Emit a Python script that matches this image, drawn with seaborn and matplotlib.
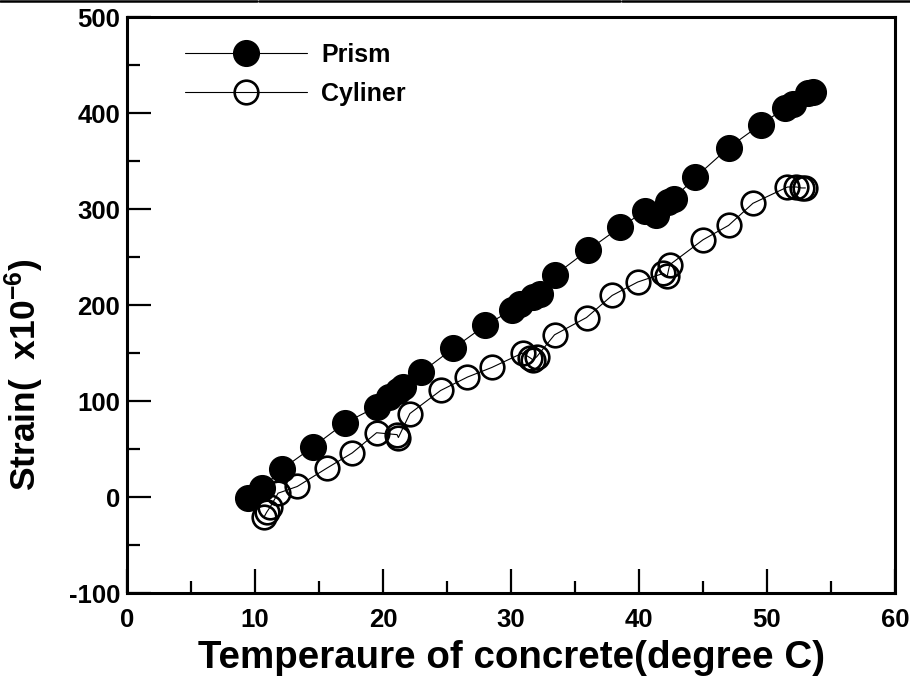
import matplotlib
matplotlib.use("Agg")
import matplotlib.pyplot as plt
import seaborn as sns
import pandas as pd
from matplotlib.ticker import MultipleLocator
from matplotlib.lines import Line2D

# ---- data ----
prism_temp = [9.45, 10.55, 12.1, 14.5, 17.0, 19.5, 20.5, 21.2, 21.6, 23.0, 25.5, 28.0,
              30.1, 30.7, 31.7, 32.3, 33.4, 36.0, 38.5, 40.5, 41.3, 42.3, 42.7, 44.4,
              47.0, 49.5, 51.4, 52.0, 53.2, 53.6]
prism_strain = [-1, 9, 29, 52, 77, 94, 104, 110, 115, 130, 155, 179,
                195, 201, 208, 212, 231, 257, 281, 298, 294, 307, 311, 333,
                364, 388, 405, 409, 421, 422]

cyl_temp = [10.7, 10.9, 11.2, 11.8, 13.3, 15.6, 17.6, 19.5, 21.1, 21.2, 22.1, 24.5,
            26.6, 28.5, 30.9, 31.5, 31.7, 32.0, 33.4, 35.9, 37.9, 39.9, 41.9, 42.2,
            42.4, 45.0, 47.0, 48.9, 51.6, 52.3, 52.7, 53.0]
cyl_strain = [-21, -16, -10, 4, 11, 30, 46, 67, 65, 62, 87, 111,
              125, 135, 150, 145, 143, 146, 169, 187, 210, 224, 233, 230,
              242, 268, 283, 306, 323, 323, 322, 322]

x_ticks = [0, 10, 20, 30, 40, 50, 60]
y_ticks = [-100, 0, 100, 200, 300, 400, 500]
series_names = ["Prism", "Cyliner"]
x_label = "Temperaure of concrete(degree C)"
y_label = r"Strain(  x10$^{\mathregular{-6}}$)"

sns.set_theme(style="white")
plt.rcParams["font.family"] = ["Liberation Sans", "DejaVu Sans"]
plt.rcParams["font.weight"] = "bold"
plt.rcParams["mathtext.default"] = "regular"
plt.rcParams["axes.unicode_minus"] = False
for k in ["text.color", "axes.labelcolor", "xtick.color", "ytick.color", "axes.edgecolor"]:
    plt.rcParams[k] = "black"

df_p = pd.DataFrame({"t": prism_temp, "s": prism_strain})
df_c = pd.DataFrame({"t": cyl_temp, "s": cyl_strain})

fig = plt.figure(figsize=(9.10, 6.84), dpi=100)
ax = fig.add_axes([0.1396, 0.133, 0.8439, 0.842])

sns.lineplot(data=df_p, x="t", y="s", ax=ax, sort=True, estimator=None,
             color="black", lw=0.8, marker="o", markersize=18.5,
             markerfacecolor="black", markeredgecolor="black", markeredgewidth=1.0,
             label=series_names[0])
sns.lineplot(data=df_c, x="t", y="s", ax=ax, sort=True, estimator=None,
             color="black", lw=0.8, marker="o", markersize=17,
             markerfacecolor="none", markeredgecolor="black", markeredgewidth=1.9,
             label=series_names[1])

ax.set_xlim(0, 60)
ax.set_ylim(-100, 500)
ax.set_xticks(x_ticks)
ax.set_yticks(y_ticks)
ax.xaxis.set_minor_locator(MultipleLocator(5))
ax.yaxis.set_minor_locator(MultipleLocator(50))
ax.tick_params(which="major", direction="in", length=17, width=1.6,
               labelsize=18.5, bottom=True, left=True, top=False, right=False,
               colors="black")
ax.tick_params(axis="x", which="major", pad=11)
ax.tick_params(axis="y", which="major", pad=5)
ax.tick_params(which="minor", direction="in", length=9, width=1.6,
               bottom=True, left=True, top=False, right=False, colors="black")
for lab in ax.get_xticklabels() + ax.get_yticklabels():
    lab.set_fontweight("bold")

for sp in ax.spines.values():
    sp.set_linewidth(2.2)
    sp.set_color("black")

ax.set_xlabel(x_label, fontsize=27.7, fontweight="bold", color="black")
ax.set_ylabel(y_label, fontsize=25.5, fontweight="bold", color="black")
ax.xaxis.set_label_coords(0.5, -0.082)
ax.yaxis.set_label_coords(-0.105, 0.378)
ax.grid(False)

leg = ax.legend(loc="upper left", frameon=False, fontsize=18, handlelength=4.9,
                borderaxespad=0.0, bbox_to_anchor=(0.062, 0.973), labelspacing=0.6,
                handletextpad=0.55)
for t in leg.get_texts():
    t.set_fontweight("bold")
    t.set_color("black")

# thin black rule at the very top of the image
for x0, x1 in [(0.0, 0.282), (0.285, 0.681), (0.684, 1.0)]:
    fig.add_artist(Line2D([x0, x1], [0.998, 0.998], transform=fig.transFigure,
                          color="black", lw=1.8))

fig.savefig("out.png", dpi=100)
